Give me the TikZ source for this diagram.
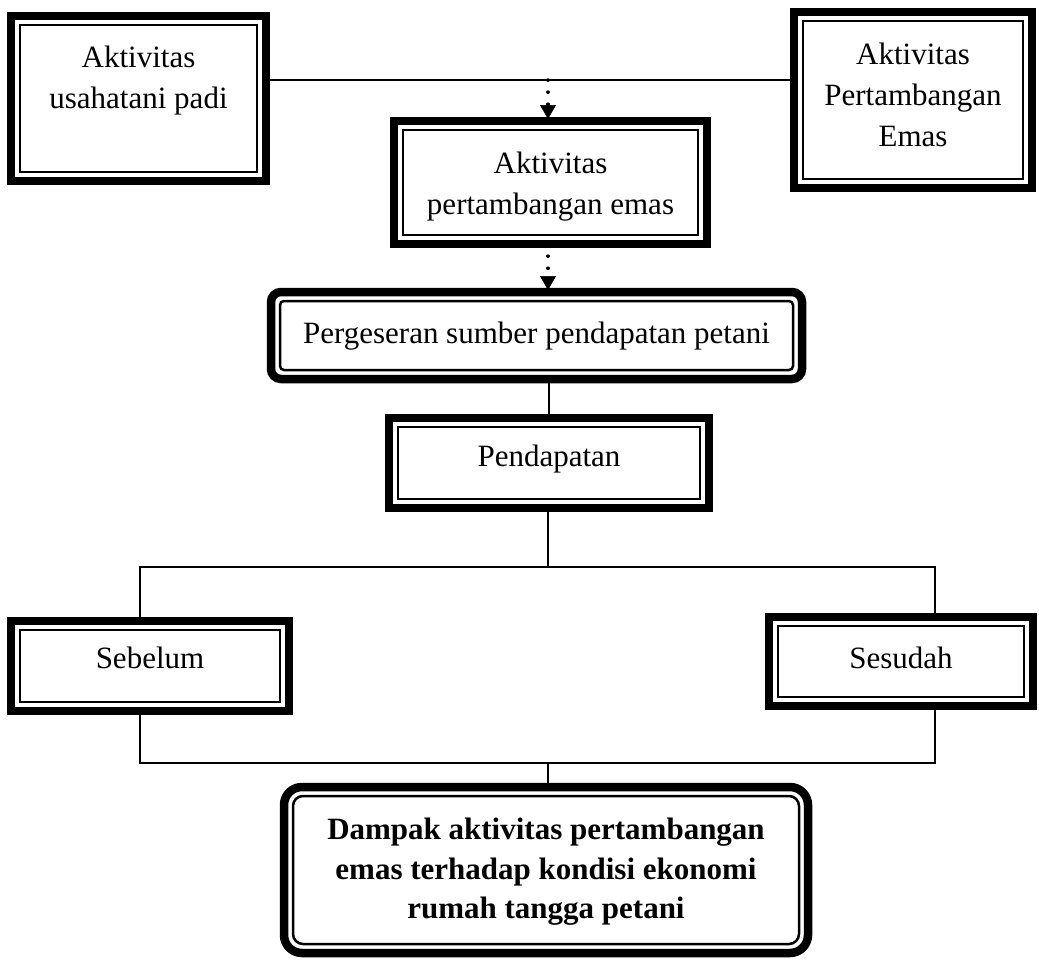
\documentclass[tikz,border=0pt]{standalone}
\usepackage{fontspec}
\setmainfont{Liberation Serif}
\usetikzlibrary{calc,positioning,arrows.meta}
\tikzset{kotak/.style={draw, line width=8.5pt, outer sep=0pt, inner sep=0pt},
  dalam/.style={line width=2.5pt},
  teks/.style={align=center, inner sep=0pt, font=\fontsize{31}{41}\selectfont},
  teksbold/.style={teks, font=\fontsize{31}{39.5}\selectfont\bfseries},
  garis/.style={line width=2pt},
  panahtitik/.style={line width=3.5pt, line cap=round, dash pattern=on 0.1pt off 12pt,
    -{Triangle[width=16pt,length=14pt,line width=0.5pt]}, shorten >=2pt}}

\begin{document}
\begin{tikzpicture}[x=1pt, y=-1pt]
\useasboundingbox (0,0) rectangle (1039,966);

% Kotak
\node[kotak, minimum width=255pt, minimum height=165pt] (padi)    at (138.5,98.5) {};
\node[kotak, minimum width=238pt, minimum height=176pt] (tambang) at (913,100)    {};
\node[kotak, minimum width=313pt, minimum height=123pt] (aktiv)   at (550.5,182.5) {};
\node[kotak, rounded corners=10pt, minimum width=531pt, minimum height=87pt] (geser) at (536.5,335.5) {};
\node[kotak, minimum width=320pt, minimum height=90pt]  (pend)    at (549,463)    {};
\node[kotak, minimum width=278pt, minimum height=90pt]  (sebelum) at (150,666)    {};
\node[kotak, minimum width=264pt, minimum height=89pt]  (sesudah) at (901,661.5)  {};
\node[kotak, rounded corners=18pt, minimum width=524pt, minimum height=166pt] (dampak) at (546,870) {};

% Garis dalam
\foreach \n in {padi,tambang,aktiv,pend,sebelum,sesudah}
  \draw[dalam] ([shift={(9pt,9pt)}]\n.south west) rectangle ([shift={(-9pt,-9pt)}]\n.north east);
\draw[dalam, rounded corners=4pt] ([shift={(9pt,9pt)}]geser.south west) rectangle ([shift={(-9pt,-9pt)}]geser.north east);
\draw[dalam, rounded corners=10pt] ([shift={(9pt,9pt)}]dampak.south west) rectangle ([shift={(-9pt,-9pt)}]dampak.north east);

% Teks
\node[teks, below=30pt of padi.north]    (padi-t)    {Aktivitas\\usahatani padi};
\node[teks, below=31pt of tambang.north] (tambang-t) {Aktivitas\\Pertambangan\\Emas};
\node[teks, below=31pt of aktiv.north]   (aktiv-t)   {Aktivitas\\pertambangan emas};
\node[teks, below=30pt of geser.north]   (geser-t)   {Pergeseran sumber pendapatan petani};
\node[teks, below=27pt of pend.north]    (pend-t)    {Pendapatan};
\node[teks, below=26pt of sebelum.north] (sebelum-t) {Sebelum};
\node[teks, below=30pt of sesudah.north] (sesudah-t) {Sesudah};
\node[teksbold, below=31pt of dampak.north] (dampak-t) {Dampak aktivitas pertambangan\\emas terhadap kondisi ekonomi\\rumah tangga petani};

% Titik cabang
\coordinate (atas)   at (548,80);
\coordinate (cabang) at (548,567);
\coordinate (kiri)   at (140,567);
\coordinate (kanan)  at (935,567);
\coordinate (gabung) at (548,763);

% Penghubung
\draw[garis] (padi.east |- atas) -- (tambang.west |- atas);
\draw[panahtitik] (atas) -- (atas |- aktiv.north);
\draw[panahtitik] (atas |- aktiv.south) -- (atas |- geser.north);
\draw[garis] (pend.north |- geser.south) -- (pend.north);
\draw[garis] (pend.south -| cabang) -- (cabang);
\draw[garis] (kiri |- sebelum.north) -- (kiri) -- (kanan) -- (kanan |- sesudah.north);
\draw[garis] (kiri |- sebelum.south) -- (kiri |- gabung) -- (kanan |- gabung) -- (kanan |- sesudah.south);
\draw[garis] (gabung) -- (gabung |- dampak.north);

\end{tikzpicture}
\end{document}
